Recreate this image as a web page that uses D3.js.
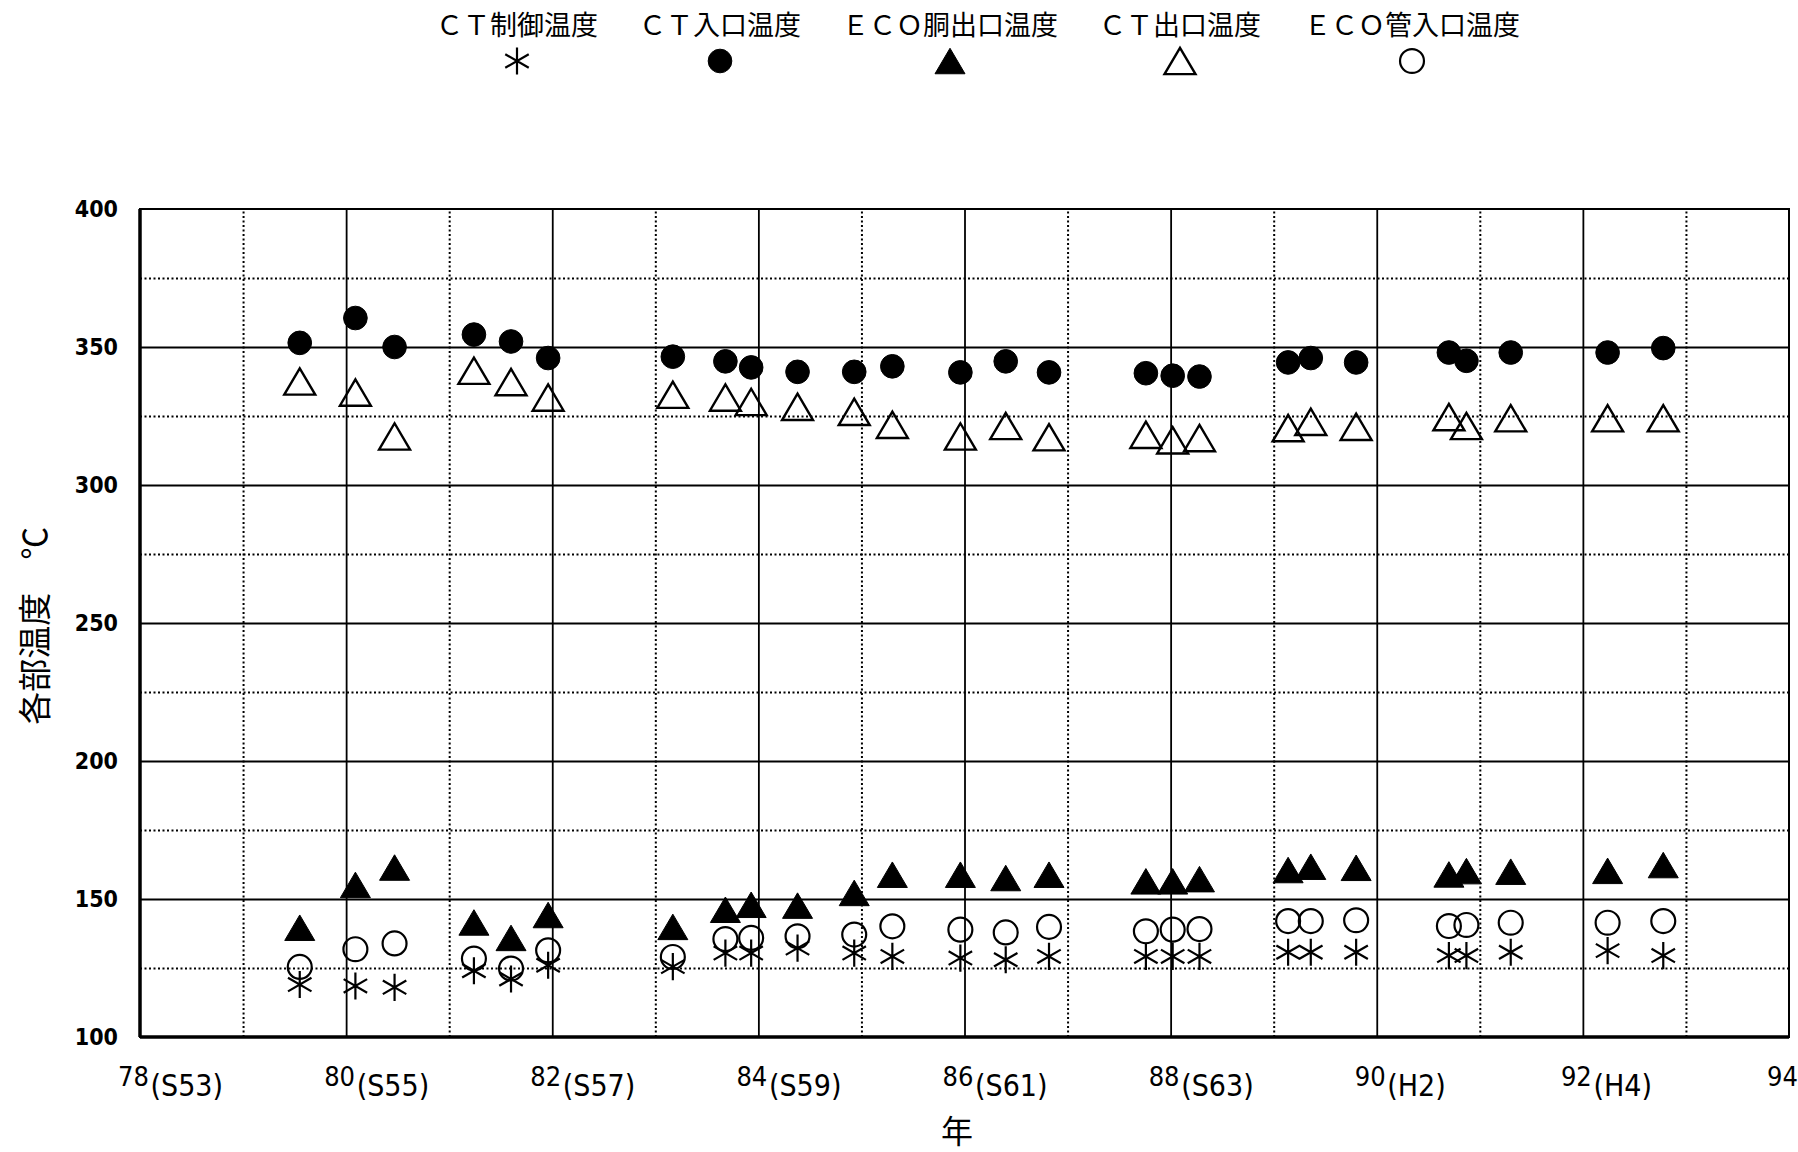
<!DOCTYPE html>
<html>
<head>
<meta charset="utf-8">
<script src="https://cdn.jsdelivr.net/npm/d3@7"></script>
<style>
  html, body { margin: 0; padding: 0; background: #fff; }
  svg { display: block; }
  .num { font-family: "DejaVu Sans Condensed", "DejaVu Sans", sans-serif; font-stretch: condensed; }
  .jp { font-family: "Noto Sans CJK JP", sans-serif; }
</style>
</head>
<body>
<div id="chart"></div>
<script>
// survey dates (year, 19xx) and measured temperatures (°C)
const years = [79.55, 80.09, 80.47, 81.24, 81.60, 81.96, 83.17, 83.68, 83.93, 84.38,
  84.93, 85.30, 85.96, 86.40, 86.82, 87.76, 88.02, 88.28, 89.14, 89.36,
  89.80, 90.70, 90.87, 91.30, 92.24, 92.78];
const ctControl = [119, 118.5, 118, 124, 121, 126, 125.5, 130.4, 130.4, 132.2,
  130.4, 129.2, 128.6, 128.0, 129.2, 129.2, 129.2, 129.2, 130.7, 130.7,
  130.7, 129.5, 129.5, 130.7, 131.3, 129.5];
const ctInlet = [351.5, 360.5, 350, 354.5, 352, 346, 346.5, 344.8, 342.6, 341,
  341, 343, 340.8, 344.8, 340.8, 340.5, 339.6, 339.3, 344.4, 346,
  344.4, 348, 345, 348, 348, 349.6];
const ecoDrumOutlet = [139.6, 155.1, 161.4, 141.5, 135.9, 144.2, 139.9, 146.1, 147.9, 147.6,
  152.2, 158.8, 158.8, 157.6, 158.8, 156.4, 156.4, 157.2, 160.5, 161.7,
  161.3, 158.9, 160.1, 159.9, 160.2, 162.3];
const ctOutlet = [337.5, 333.5, 317.6, 341.4, 337.3, 331.7, 332.7, 331.7, 330.1, 328.3,
  326.5, 321.8, 317.6, 321.4, 317.3, 318.2, 316.2, 317.0, 320.6, 322.9,
  321.1, 324.6, 321.4, 324.2, 324.2, 324.2];
const ecoInlet = [125.4, 131.8, 133.9, 128.4, 124.8, 131.4, 129.0, 135.5, 135.9, 136.5,
  137.1, 140.1, 138.9, 137.9, 139.9, 138.3, 138.9, 139.1, 142.0, 142.0,
  142.3, 140.2, 140.6, 141.4, 141.4, 142.0];

const seriesNames = ["ＣＴ制御温度", "ＣＴ入口温度", "ＥＣＯ胴出口温度", "ＣＴ出口温度", "ＥＣＯ管入口温度"];
const seriesKeys = ["asterisk", "dot", "triUp", "triOpen", "ring"];
const seriesValues = [ctControl, ctInlet, ecoDrumOutlet, ctOutlet, ecoInlet];

const yearTicks = [78, 80, 82, 84, 86, 88, 90, 92, 94];
const eraLabels = ["(S53)", "(S55)", "(S57)", "(S59)", "(S61)", "(S63)", "(H2)", "(H4)", ""];
const oddYears = [79, 81, 83, 85, 87, 89, 91, 93];
const yTicks = [100, 150, 200, 250, 300, 350, 400];
const yMinor = [125, 175, 225, 275, 325, 375];

const W = 1798, H = 1152;
const margin = { left: 140, right: 9, top: 209, bottom: 115 };
const plotW = W - margin.left - margin.right;
const plotH = H - margin.top - margin.bottom;

const x = d3.scaleLinear().domain([78, 94]).range([0, plotW]);
const y = d3.scaleLinear().domain([100, 400]).range([plotH, 0]);

const svg = d3.select("#chart").append("svg").attr("width", W).attr("height", H);
const g = svg.append("g").attr("transform", `translate(${margin.left},${margin.top})`);

// triangle centred on its bounding box
const triangleBox = {
  draw(ctx, size) {
    const s = Math.sqrt(size);
    const h = s * 0.85;
    ctx.moveTo(0, -h / 2);
    ctx.lineTo(s / 2, h / 2);
    ctx.lineTo(-s / 2, h / 2);
    ctx.closePath();
  }
};

function drawSymbol(sel, key) {
  if (key === "asterisk") {
    sel.attr("d", d3.symbol(d3.symbolAsterisk, 520)()).attr("fill", "none")
      .attr("stroke", "#000").attr("stroke-width", 2.2);
  } else if (key === "dot") {
    sel.attr("d", d3.symbol(d3.symbolCircle, 440)()).attr("fill", "#000")
      .attr("stroke", "#000").attr("stroke-width", 1);
  } else if (key === "triUp") {
    sel.attr("d", d3.symbol(triangleBox, 900)()).attr("fill", "#000")
      .attr("stroke", "#000").attr("stroke-width", 1);
  } else if (key === "triOpen") {
    sel.attr("d", d3.symbol(triangleBox, 960)()).attr("fill", "none")
      .attr("stroke", "#000").attr("stroke-width", 2.4);
  } else if (key === "ring") {
    sel.attr("d", d3.symbol(d3.symbolCircle, 450)()).attr("fill", "none")
      .attr("stroke", "#000").attr("stroke-width", 2.2);
  }
}

// gridlines
const gridSolidX = g.append("g").attr("transform", `translate(0,${plotH})`)
  .call(d3.axisBottom(x).tickValues(yearTicks.slice(1, -1)).tickSize(-plotH).tickFormat(""));
const gridDotX = g.append("g").attr("transform", `translate(0,${plotH})`)
  .call(d3.axisBottom(x).tickValues(oddYears).tickSize(-plotH).tickFormat(""));
const gridSolidY = g.append("g")
  .call(d3.axisLeft(y).tickValues(yTicks.slice(1, -1)).tickSize(-plotW).tickFormat(""));
const gridDotY = g.append("g")
  .call(d3.axisLeft(y).tickValues(yMinor).tickSize(-plotW).tickFormat(""));

[gridSolidX, gridDotX, gridSolidY, gridDotY].forEach(a => a.select(".domain").remove());
gridSolidX.selectAll("line").attr("stroke", "#000").attr("stroke-width", 1.8);
gridSolidY.selectAll("line").attr("stroke", "#000").attr("stroke-width", 1.8);
gridDotX.selectAll("line").attr("stroke", "#000").attr("stroke-width", 2).attr("stroke-dasharray", "2,2.5");
gridDotY.selectAll("line").attr("stroke", "#000").attr("stroke-width", 2).attr("stroke-dasharray", "2,2.5");

// frame
g.append("rect").attr("width", plotW).attr("height", plotH)
  .attr("fill", "none").attr("stroke", "#000").attr("stroke-width", 2);
g.append("line").attr("x1", 0).attr("x2", 0).attr("y1", 0).attr("y2", plotH)
  .attr("stroke", "#000").attr("stroke-width", 3.5);
g.append("line").attr("x1", 0).attr("x2", plotW).attr("y1", plotH).attr("y2", plotH)
  .attr("stroke", "#000").attr("stroke-width", 3.5);

// y axis labels
const yAxis = g.append("g").call(d3.axisLeft(y).tickValues(yTicks).tickSize(0).tickPadding(22));
yAxis.select(".domain").remove();
yAxis.selectAll("text").attr("class", "num").attr("font-size", 23).attr("font-weight", "bold")
  .attr("fill", "#000");

// x axis labels: year + era
const xAxis = g.append("g").attr("transform", `translate(0,${plotH})`)
  .call(d3.axisBottom(x).tickValues(yearTicks).tickSize(0).tickFormat(""));
xAxis.select(".domain").remove();
xAxis.selectAll(".tick").each(function (d, i) {
  const t = d3.select(this);
  t.append("text").attr("class", "num").attr("x", -7).attr("y", 49)
    .attr("text-anchor", "middle").attr("font-size", 27).attr("fill", "#000").text(d);
  t.append("text").attr("class", "num").attr("x", 10).attr("y", 59)
    .attr("text-anchor", "start").attr("font-size", 30).attr("fill", "#000").text(eraLabels[i]);
});

// axis titles
svg.append("text").attr("class", "jp")
  .attr("transform", `translate(47,${margin.top + y(249)}) rotate(-90)`)
  .attr("text-anchor", "middle").attr("font-size", 33).attr("fill", "#000")
  .text("各部温度　℃");
svg.append("text").attr("class", "jp").attr("x", 957).attr("y", 1143)
  .attr("text-anchor", "middle").attr("font-size", 32).attr("fill", "#000").text("年");

// data points
seriesKeys.forEach((key, si) => {
  const pts = years.map((yr, i) => ({ x: yr, v: seriesValues[si][i] }));
  g.append("g").selectAll("path").data(pts).join("path")
    .attr("transform", d => `translate(${x(d.x)},${y(d.v)})`)
    .call(drawSymbol, key);
});

// legend
const legendX = [517, 720, 950, 1180, 1412];
const legend = svg.append("g");
seriesNames.forEach((name, i) => {
  legend.append("text").attr("class", "jp").attr("x", legendX[i]).attr("y", 35)
    .attr("text-anchor", "middle").attr("font-size", 27).attr("fill", "#000").text(name);
  legend.append("path").attr("transform", `translate(${legendX[i]},${61})`)
    .call(drawSymbol, seriesKeys[i]);
});
</script>
</body>
</html>
